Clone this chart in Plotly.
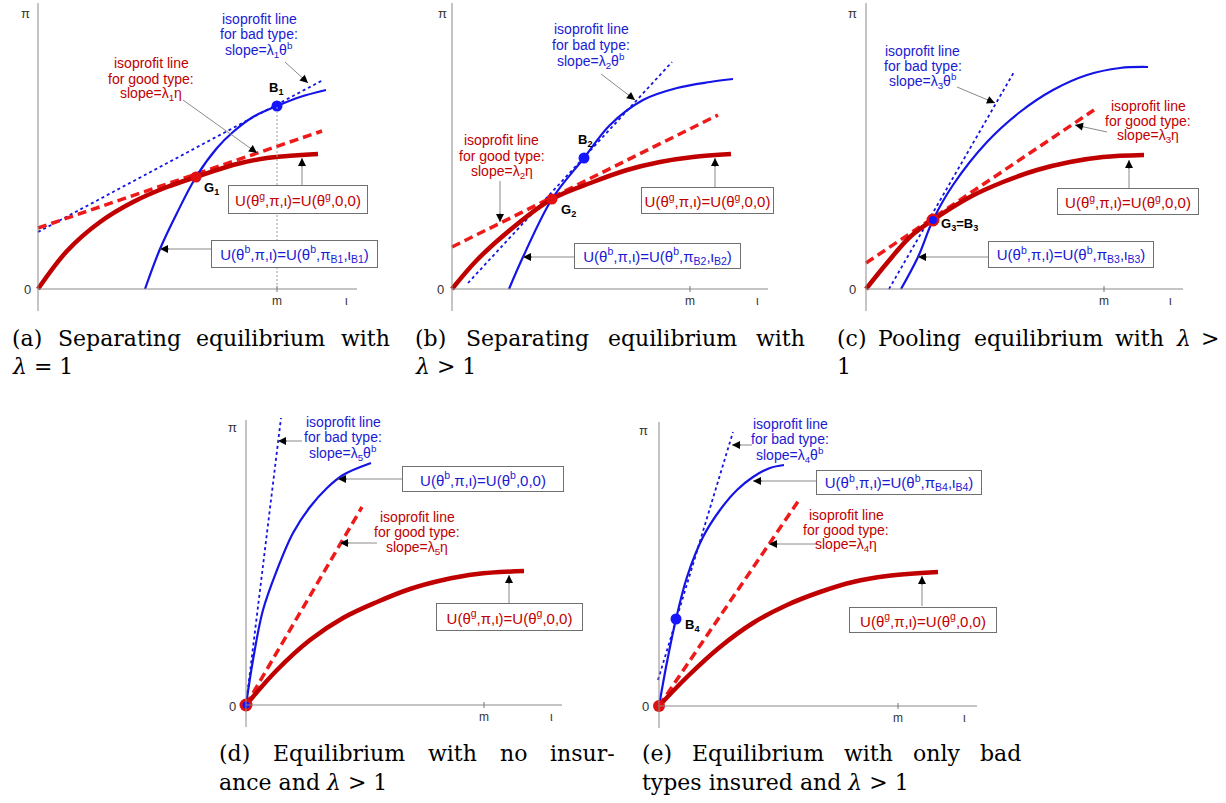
import plotly.graph_objects as go

W, H = 1226, 803

# ---------------- data (x = cover ι, y = premium π; arbitrary units) ----------------
x_tick_labels = ["m", "ι"]
y_tick_labels = ["0", "π"]
panel_ids = ["a", "b", "c", "d", "e"]
lambda_index = ["1", "2", "3", "5", "4"]
m_value = [239, 238, 238, 238, 239]
iota_value = [308, 305, 304, 305, 305]
x_axis_end = [319, 316, 317, 316, 318]
y_axis_top = [286, 286, 286, 285, 284]

# (a) separating, lambda = 1
a_good_x = [0, 29, 62, 95, 129, 158, 195, 229, 280]
a_good_y = [0, 38, 67, 87, 102, 112, 124, 131, 135]
a_bad_x = [107, 122, 139, 158, 179, 195, 215, 239, 262, 288]
a_bad_y = [0, 40, 76, 112, 141, 157, 172, 183, 192, 199]
a_iso_bad_x = [0, 285]
a_iso_bad_y = [57, 209]
a_iso_good_x = [0, 284]
a_iso_good_y = [61, 158]
a_B = [239, 183]
a_G = [158, 112]

# (b) separating, lambda > 1
b_good_x = [0, 25, 58, 100, 141, 175, 208, 241, 279]
b_good_y = [0, 29, 59, 90, 107, 119, 127, 132, 135]
b_bad_x = [57, 71, 100, 132, 158, 191, 225, 258, 281]
b_bad_y = [0, 32, 90, 131, 164, 189, 201, 207, 210]
b_iso_bad_x = [16, 220]
b_iso_bad_y = [6, 227]
b_iso_good_x = [0, 266]
b_iso_good_y = [42, 174]
b_B = [132, 131]
b_G = [100, 90]

# (c) pooling, lambda > 1
c_good_x = [0, 21, 44, 67, 104, 137, 171, 204, 237, 278]
c_good_y = [0, 26, 52, 69, 92, 107, 119, 127, 132, 134]
c_bad_x = [35, 52, 67, 87, 121, 154, 187, 221, 254, 282]
c_bad_y = [0, 32, 69, 104, 147, 177, 199, 214, 221, 222]
c_iso_bad_x = [23, 148]
c_iso_bad_y = [0, 217]
c_iso_good_x = [0, 228]
c_iso_good_y = [26, 179]
c_GB = [67, 69]

# (d) no insurance
d_good_x = [0, 31, 64, 97, 131, 164, 197, 231, 278]
d_good_y = [0, 35, 65, 87, 103, 116, 125, 131, 134]
d_bad_x = [0, 7, 17, 31, 47, 64, 81, 97, 125]
d_bad_y = [0, 45, 95, 135, 172, 198, 217, 230, 242]
d_iso_bad_x = [0, 35]
d_iso_bad_y = [0, 287]
d_iso_good_x = [0, 116]
d_iso_good_y = [0, 198]
d_O = [0, 0]

# (e) only bad types insured
e_good_x = [0, 28, 61, 94, 128, 161, 194, 228, 279]
e_good_y = [0, 29, 59, 83, 101, 114, 124, 130, 134]
e_bad_x = [0, 8, 17, 28, 44, 61, 78, 94, 111, 125]
e_bad_y = [0, 44, 87, 129, 169, 196, 216, 229, 238, 241]
e_iso_bad_x = [-1, 74]
e_iso_bad_y = [26, 274]
e_iso_good_x = [0, 140]
e_iso_good_y = [0, 206]
e_B = [17, 87]
e_O = [0, 0]

# ---------------- layout of panels (pixel boxes) ----------------
PANEL_BOX = {  # left, right, top, bottom, origin x, origin y
    "a": (0, 410, 0, 312, 38, 289),
    "b": (410, 820, 0, 312, 452, 289),
    "c": (820, 1226, 0, 312, 866, 289),
    "d": (200, 620, 405, 732, 246, 705),
    "e": (620, 1030, 405, 732, 659, 706),
}

RED_CURVE = "#c00000"
RED_DASH = "#ee1a1a"
BLUE = "#1414e6"
RED_TXT = "#c00000"
BLUE_TXT = "#1a1ad2"
SANS = "Liberation Sans, Arial, sans-serif"
SERIF = "DejaVu Serif, serif"

fig = go.Figure()
shapes = []
annotations = []


def refs(i):
    return ("x" if i == 0 else f"x{i+1}"), ("y" if i == 0 else f"y{i+1}")


def add_line(i, xs, ys, color, width, dash=None, spline=True):
    xr, yr = refs(i)
    fig.add_trace(go.Scatter(
        x=xs, y=ys, mode="lines", xaxis=xr, yaxis=yr, hoverinfo="skip",
        line=dict(color=color, width=width, dash=dash,
                  shape="spline" if spline else "linear", smoothing=1.0)))


def add_marker(i, pt, color, size):
    xr, yr = refs(i)
    fig.add_trace(go.Scatter(x=[pt[0]], y=[pt[1]], mode="markers", xaxis=xr, yaxis=yr,
                             hoverinfo="skip", marker=dict(color=color, size=size)))


def text(i, x, y, s, color, size, anchor="center", family=SANS):
    xr, yr = refs(i)
    annotations.append(dict(xref=xr, yref=yr, x=x, y=y, text=s, showarrow=False,
                            xanchor=anchor, yanchor="middle",
                            font=dict(family=family, size=size, color=color)))


def arrow(i, tail, tip, head=10):
    xr, yr = refs(i)
    shapes.append(dict(type="line", xref=xr, yref=yr, x0=tail[0], y0=tail[1],
                       x1=tip[0], y1=tip[1], line=dict(color="#8a8a8a", width=1)))
    dx, dy = tip[0] - tail[0], tip[1] - tail[1]
    L = (dx * dx + dy * dy) ** 0.5
    annotations.append(dict(xref=xr, yref=yr, axref=xr, ayref=yr, x=tip[0], y=tip[1],
                            ax=tip[0] - dx / L * head, ay=tip[1] - dy / L * head,
                            text="", showarrow=True, arrowhead=2, arrowsize=1.6,
                            arrowwidth=1, arrowcolor="black", standoff=0))


def box(i, cx, cy, w, h, s, color):
    xr, yr = refs(i)
    annotations.append(dict(xref=xr, yref=yr, x=cx, y=cy, text=s, showarrow=False,
                            xanchor="center", yanchor="middle", width=w - 2, height=h - 2,
                            bordercolor="#707070", borderwidth=1, borderpad=0, bgcolor="white",
                            font=dict(family=SANS, size=15, color=color)))


# per-panel annotation layout (units: same as data)
ANN = {
    "a": dict(bt=(221, [270, 255, 239]), ba=((247, 227), (270, 206)),
              rt=(113, [226, 210, 195]), ra=((145, 189), (219, 136)),
              rb=(260, 89.5, 140, 29), rba=((264, 104), (264, 131)),
              bb=(256.5, 35.5, 167, 28), bba=((173, 40), (122, 40)),
              blue_box="U(θ<sup>b</sup>,π,ι)=U(θ<sup>b</sup>,π<sub>B1</sub>,ι<sub>B1</sub>)",
              labels=[("<b>B<sub>1</sub></b>", 229, 201), ("<b>G<sub>1</sub></b>", 164, 101)],
              pi=(-13, 276), zero=(-11, 0)),
    "b": dict(bt=(139, [260, 244, 228]), ba=((149, 215), (183, 189)),
              rt=(50, [149, 133, 117]), ra=((48, 108), (48, 67)),
              rb=(255.5, 89, 133, 27), rba=((263, 102), (263, 131)),
              bb=(205.5, 33.5, 167, 26), bba=((122, 32), (71, 32)),
              blue_box="U(θ<sup>b</sup>,π,ι)=U(θ<sup>b</sup>,π<sub>B2</sub>,ι<sub>B2</sub>)",
              labels=[("<b>B<sub>2</sub></b>", 124, 149), ("<b>G<sub>2</sub></b>", 107, 79)],
              pi=(-9, 276), zero=(-11, 0)),
    "c": dict(bt=(57, [238, 223, 208]), ba=((91, 202), (129, 186)),
              rt=(282, [183, 168, 153]), ra=((241, 157), (209, 164)),
              rb=(262, 87.5, 142, 27), rba=((263, 101), (263, 129)),
              bb=(205, 34.5, 166, 27), bba=((122, 32), (52, 32)),
              blue_box="U(θ<sup>b</sup>,π,ι)=U(θ<sup>b</sup>,π<sub>B3</sub>,ι<sub>B3</sub>)",
              labels=[("<b>G<sub>3</sub>=B<sub>3</sub></b>", 73, 65)],
              pi=(-13, 276), zero=(-13, 0)),
    "d": dict(bt=(97, [283, 268, 252]), ba=((56, 264), (32, 264)),
              rt=(171, [188, 173, 157]), ra=((131, 162), (94, 162)),
              rb=(263.5, 88, 147, 28), rba=((263, 102), (263, 130)),
              bb=(237, 226, 162, 26), bba=((156, 226), (92, 226)),
              blue_box="U(θ<sup>b</sup>,π,ι)=U(θ<sup>b</sup>,0,0)",
              labels=[],
              pi=(-14, 278), zero=(-14, -1)),
    "e": dict(bt=(131, [282, 267, 251]), ba=((93, 261), (73, 261)),
              rt=(187, [191, 176, 161]), ra=((158, 162), (110, 162)),
              rb=(264, 86, 148, 26), rba=((263, 100), (263, 130)),
              bb=(240, 223.5, 166, 25), bba=((157, 225), (94, 225)),
              blue_box="U(θ<sup>b</sup>,π,ι)=U(θ<sup>b</sup>,π<sub>B4</sub>,ι<sub>B4</sub>)",
              labels=[("<b>B<sub>4</sub></b>", 24, 81)],
              pi=(-16, 276), zero=(-14, 0)),
}

SERIES = {
    "a": (a_good_x, a_good_y, a_bad_x, a_bad_y, a_iso_bad_x, a_iso_bad_y, a_iso_good_x, a_iso_good_y),
    "b": (b_good_x, b_good_y, b_bad_x, b_bad_y, b_iso_bad_x, b_iso_bad_y, b_iso_good_x, b_iso_good_y),
    "c": (c_good_x, c_good_y, c_bad_x, c_bad_y, c_iso_bad_x, c_iso_bad_y, c_iso_good_x, c_iso_good_y),
    "d": (d_good_x, d_good_y, d_bad_x, d_bad_y, d_iso_bad_x, d_iso_bad_y, d_iso_good_x, d_iso_good_y),
    "e": (e_good_x, e_good_y, e_bad_x, e_bad_y, e_iso_bad_x, e_iso_bad_y, e_iso_good_x, e_iso_good_y),
}

layout_axes = {}
for i, pid in enumerate(panel_ids):
    left, right, top, bottom, ox, oy = PANEL_BOX[pid]
    xname = "xaxis" if i == 0 else f"xaxis{i+1}"
    yname = "yaxis" if i == 0 else f"yaxis{i+1}"
    common = dict(visible=False, showgrid=False, zeroline=False, fixedrange=True)
    layout_axes[xname] = dict(domain=[left / W, right / W], range=[left - ox, right - ox],
                              anchor=refs(i)[1], **common)
    layout_axes[yname] = dict(domain=[1 - bottom / H, 1 - top / H], range=[oy - bottom, oy - top],
                              anchor=refs(i)[0], **common)
    xr, yr = refs(i)

    # axes
    shapes.append(dict(type="line", xref=xr, yref=yr, x0=0, x1=0, y0=-22, y1=y_axis_top[i],
                       line=dict(color="#8a8a8a", width=1)))
    shapes.append(dict(type="line", xref=xr, yref=yr, x0=0, x1=x_axis_end[i], y0=0, y1=0,
                       line=dict(color="#8a8a8a", width=1)))
    shapes.append(dict(type="line", xref=xr, yref=yr, x0=m_value[i], x1=m_value[i], y0=-3, y1=3,
                       line=dict(color="#777777", width=1)))
    text(i, m_value[i], -12, x_tick_labels[0], "#333333", 12)
    text(i, iota_value[i], -12, x_tick_labels[1], "#333333", 12)
    A = ANN[pid]
    text(i, A["zero"][0], A["zero"][1], y_tick_labels[0], "#333333", 13)
    text(i, A["pi"][0], A["pi"][1], y_tick_labels[1], "#333333", 13)

    gx, gy, bx, by, ibx, iby, igx, igy = SERIES[pid]
    if pid == "a":
        shapes.append(dict(type="line", xref=xr, yref=yr, x0=a_B[0], x1=a_B[0], y0=0, y1=a_B[1],
                           line=dict(color="#9a9a9a", width=1, dash="2px,2px")))
    add_line(i, ibx, iby, BLUE, 1.8, dash="3px,3px", spline=False)
    add_line(i, igx, igy, RED_DASH, 3.5, dash="9px,5px", spline=False)
    add_line(i, bx, by, BLUE, 2.2)
    add_line(i, gx, gy, RED_CURVE, 4.5)

    # isoprofit texts
    li = lambda_index[i]
    blue_lines = ["isoprofit line", "for bad type:", f"slope=λ<sub>{li}</sub>θ<sup>b</sup>"]
    red_lines = ["isoprofit line", "for good type:", f"slope=λ<sub>{li}</sub>η"]
    for s, yy in zip(blue_lines, A["bt"][1]):
        text(i, A["bt"][0], yy, s, BLUE_TXT, 14)
    for s, yy in zip(red_lines, A["rt"][1]):
        text(i, A["rt"][0], yy, s, RED_TXT, 14)
    arrow(i, *A["ba"])
    arrow(i, *A["ra"])
    # boxes
    cx, cy, bw, bh = A["rb"]
    arrow(i, *A["rba"])
    box(i, cx, cy, bw, bh, "U(θ<sup>g</sup>,π,ι)=U(θ<sup>g</sup>,0,0)", RED_TXT)
    cx, cy, bw, bh = A["bb"]
    arrow(i, *A["bba"])
    box(i, cx, cy, bw, bh, A["blue_box"], BLUE_TXT)
    for s, lx, ly in A["labels"]:
        text(i, lx, ly, s, "black", 13, anchor="left")

# equilibrium points
add_marker(0, a_B, "#1515ff", 11)
add_marker(0, a_G, "#e01010", 11)
add_marker(1, b_B, "#1515ff", 11)
add_marker(1, b_G, "#e01010", 11)
add_marker(2, c_GB, "#e01010", 13)
add_marker(2, c_GB, "#1515ff", 8)
add_marker(3, d_O, "#e01010", 13)
add_marker(3, d_O, "#1515ff", 7)
add_marker(4, e_B, "#1515ff", 11)
add_marker(4, e_O, "#e01010", 12)

# captions (justified words placed at their positions, in page pixels)
CAPTIONS = [
    (338, [(10, "(a)"), (56, "Separating"), (194, "equilibrium"), (339, "with")]),
    (366, [(10, "<i>λ</i> = 1")]),
    (338, [(413, "(b)"), (464, "Separating"), (606, "equilibrium"), (754, "with")]),
    (366, [(413, "<i>λ</i> > 1")]),
    (338, [(835, "(c)"), (876, "Pooling"), (972, "equilibrium"), (1113, "with"), (1174, "<i>λ</i>"), (1199, ">")]),
    (366, [(835, "1")]),
    (753, [(217, "(d)"), (271, "Equilibrium"), (426, "with"), (498, "no"), (548, "insur-")]),
    (782, [(217, "ance and <i>λ</i> > 1")]),
    (753, [(640, "(e)"), (690, "Equilibrium"), (842, "with"), (911, "only"), (978, "bad")]),
    (782, [(640, "types insured and <i>λ</i> > 1")]),
]
for yy, words in CAPTIONS:
    for xx, w in words:
        annotations.append(dict(xref="paper", yref="paper", x=xx / W, y=1 - yy / H, text=w,
                                showarrow=False, xanchor="left", yanchor="middle",
                                font=dict(family=SERIF, size=22, color="black")))

fig.update_layout(width=W, height=H, margin=dict(l=0, r=0, t=0, b=0),
                  paper_bgcolor="white", plot_bgcolor="rgba(0,0,0,0)",
                  showlegend=False, shapes=shapes, annotations=annotations, **layout_axes)

fig.write_html("out.html", config={"displayModeBar": False, "staticPlot": True},
               post_script="document.body.style.margin='0';document.body.style.overflow='hidden';")
